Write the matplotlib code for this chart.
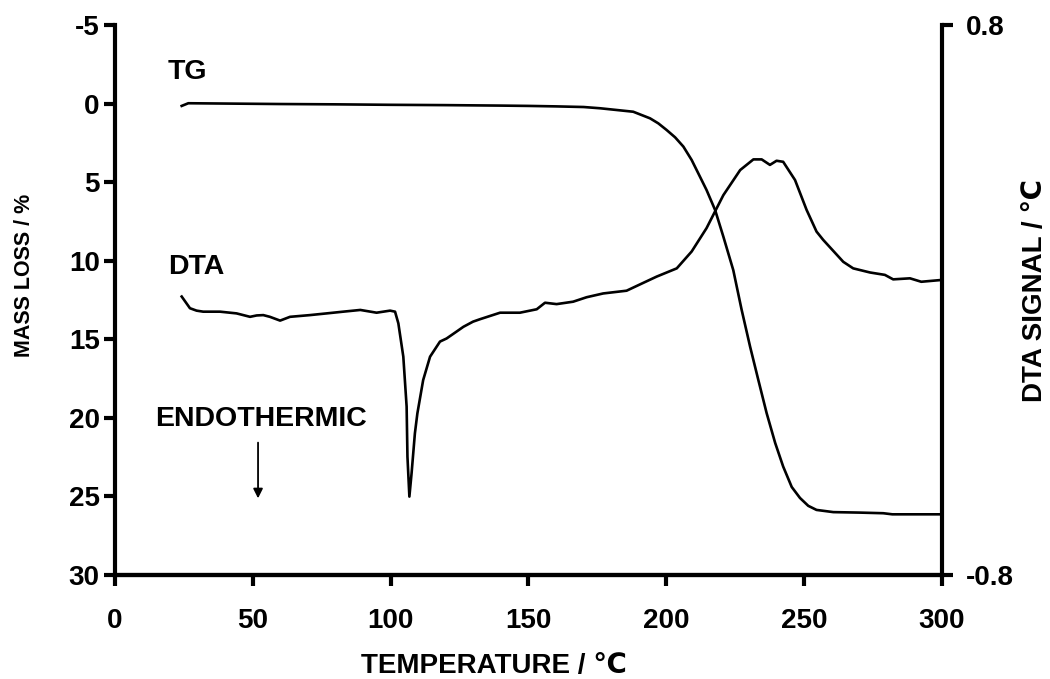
import matplotlib
matplotlib.use("Agg")
import matplotlib.pyplot as plt

plt.rcParams["font.family"] = ["Liberation Sans", "DejaVu Sans"]
plt.rcParams["font.weight"] = "bold"
plt.rcParams["axes.unicode_minus"] = False

# TG curve: temperature (C) vs mass loss (%)
tg_temp = [24.2, 26.6, 40, 60, 80, 100, 120, 140, 150, 160, 170, 176, 182, 188,
           194.1, 197.1, 200.1, 203.2, 206.2, 209.2, 212.2, 214.6, 217.7, 220.7,
           224.3, 227.3, 230.4, 233.4, 236.4, 239.5, 242.4, 245.5, 248.5, 251.5,
           254.5, 260.6, 270, 278.7, 282, 290, 299.5]
tg_loss = [0.15, -0.02, 0.0, 0.03, 0.05, 0.08, 0.1, 0.13, 0.15, 0.18, 0.22, 0.3,
           0.41, 0.52, 0.94, 1.26, 1.68, 2.15, 2.74, 3.59, 4.65, 5.5, 6.77, 8.47,
           10.6, 13.1, 15.47, 17.6, 19.7, 21.6, 23.1, 24.4, 25.1, 25.6,
           25.86, 26.0, 26.03, 26.07, 26.14, 26.14, 26.14]

# DTA curve: temperature (C) vs signal (C)
dta_temp = [24.2, 27.2, 29.6, 32.0, 38.1, 44.1, 49.0, 51.4, 53.8, 56.2, 59.9,
            63.5, 70.7, 76.8, 82.8, 89.0, 94.9, 99.8, 101.6, 102.8, 104.6, 105.8,
            106.1, 106.8, 107.6, 108.8, 109.7, 111.8, 114.3, 117.9, 120.3, 123.9,
            126.4, 129.9, 132.4, 139.7, 146.9, 153.0, 156.0, 160.2, 166.2, 171.1,
            177.1, 185.6, 191.7, 196.5, 203.8, 209.2, 214.6, 220.7, 226.8, 231.6,
            234.6, 237.6, 240.0, 242.4, 246.7, 250.9, 254.5, 256.9, 264.2, 267.8,
            273.9, 279.3, 282.3, 288.4, 292.5, 299.5]
dta_signal = [0.010, -0.024, -0.031, -0.034, -0.034, -0.039, -0.049, -0.045,
              -0.044, -0.049, -0.060, -0.049, -0.044, -0.039, -0.034, -0.029,
              -0.037, -0.031, -0.034, -0.068, -0.165, -0.310, -0.456, -0.572,
              -0.504, -0.388, -0.330, -0.233, -0.165, -0.121, -0.112, -0.092,
              -0.078, -0.063, -0.056, -0.037, -0.037, -0.027, -0.008, -0.012,
              -0.005, 0.008, 0.019, 0.027, 0.050, 0.068, 0.092, 0.141, 0.209,
              0.305, 0.378, 0.409, 0.409, 0.393, 0.405, 0.402, 0.349, 0.262,
              0.199, 0.175, 0.111, 0.092, 0.080, 0.073, 0.060, 0.063, 0.053,
              0.058]

x_ticks = [0, 50, 100, 150, 200, 250, 300]
left_ticks = [-5, 0, 5, 10, 15, 20, 25, 30]
right_ticks = [-0.8, 0.8]
right_labels = ["-0.8", "0.8"]

fig = plt.figure(figsize=(10.5, 6.79), dpi=100)
ax = fig.add_axes([0.1095, 0.1532, 0.7876, 0.81])
ax2 = ax.twinx()

ax.plot(tg_temp, tg_loss, color="black", lw=1.9)
ax2.plot(dta_temp, dta_signal, color="black", lw=1.9)

ax.set_xlim(0, 300)
ax.set_ylim(30, -5)
ax2.set_ylim(-0.8, 0.8)
ax.set_xticks(x_ticks)
ax.set_yticks(left_ticks)
ax2.set_yticks(right_ticks)
ax2.set_yticklabels(right_labels)

for a in (ax, ax2):
    for s in a.spines.values():
        s.set_linewidth(3)
    a.spines["top"].set_visible(False)
    a.tick_params(width=3, length=8, labelsize=20)
ax2.spines["left"].set_visible(False)
ax.spines["right"].set_visible(False)
ax.tick_params(axis="x", pad=16)
ax.tick_params(axis="y", pad=3)
ax2.tick_params(axis="y", pad=9)

ax.set_xlabel("TEMPERATURE / ℃", fontsize=20, fontweight="bold")
ax.xaxis.set_label_coords(0.458, -0.166)
ax.xaxis.label.set_va("center")

ax.set_ylabel("MASS LOSS / %", fontsize=15.5, fontweight="bold")
ax.yaxis.set_label_coords(-0.109, 0.545)
ax.yaxis.label.set_va("center")

ax2.set_ylabel("DTA SIGNAL / ℃", fontsize=20, fontweight="bold")
ax2.yaxis.set_label_coords(1.112, 0.518)
ax2.yaxis.label.set_va("center")

ax.text(19.2, -2.0, "TG", fontsize=20.5, fontweight="bold", va="center")
ax.text(19.2, 10.4, "DTA", fontsize=20.5, fontweight="bold", va="center")
ax.text(53, 20.1, "ENDOTHERMIC", fontsize=20.5, fontweight="bold",
        ha="center", va="center")
ax.annotate("", xy=(51.9, 25.3), xytext=(51.9, 21.4),
            arrowprops=dict(arrowstyle="-|>", color="black", lw=1.3,
                            mutation_scale=14))

fig.savefig("out.png", dpi=100)
